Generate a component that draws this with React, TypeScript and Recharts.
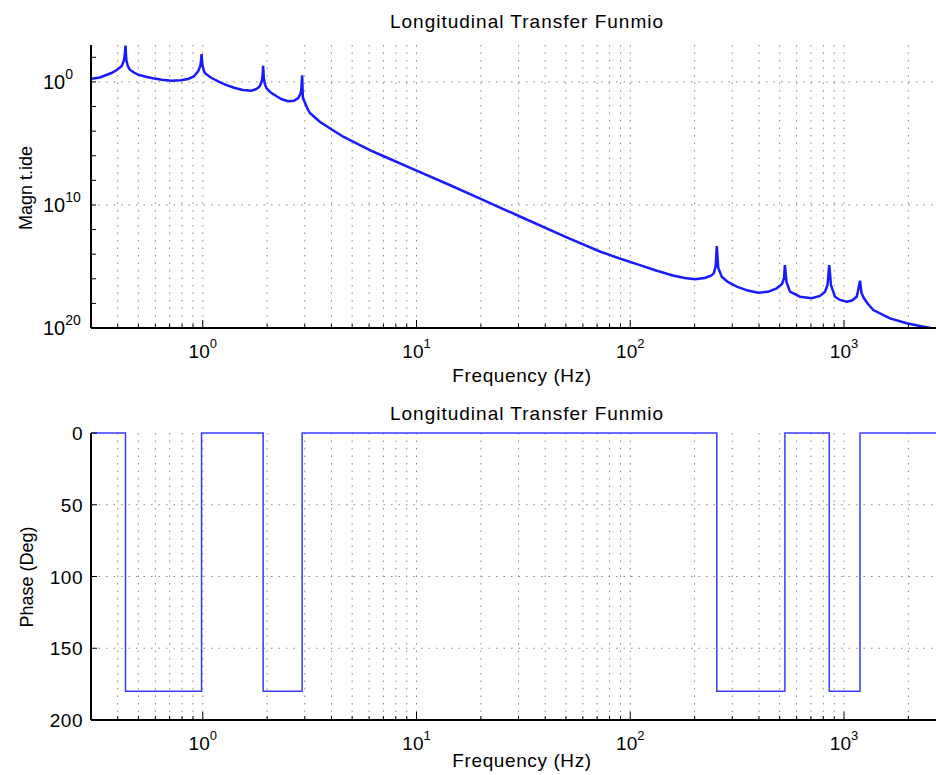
import React from "react";
import { LineChart, Line, XAxis, YAxis, CartesianGrid, ReferenceLine } from "recharts";

const FONT = '"Liberation Sans", Arial, Helvetica, sans-serif';

// magnitude curve (Hz, |H|)
const magFreq = [
  0.302, 0.33, 0.374, 0.396, 0.417, 0.427, 0.431, 0.435, 0.439, 0.446, 0.456, 0.476,
  0.498, 0.536, 0.576, 0.643, 0.714, 0.789, 0.854, 0.908, 0.951, 0.974, 0.98, 0.987,
  0.995, 1.006, 1.022, 1.09, 1.18, 1.282, 1.413, 1.54, 1.691, 1.784, 1.849, 1.89,
  1.906, 1.916, 1.93, 1.951, 1.987, 2.08, 2.214, 2.344, 2.508, 2.668, 2.794, 2.86,
  2.891, 2.917, 2.94, 3.004, 3.07, 3.17, 3.35, 3.53, 3.93, 4.54, 5.24, 6.05,
  6.98, 10, 14.3, 20.2, 30.5, 50.4, 72.1, 87.8, 111, 132, 158, 180,
  201, 223, 240, 246, 251, 254, 258, 268, 286, 315, 355, 397,
  441, 484, 513, 524, 529, 538, 559, 622, 706, 772, 815, 837,
  853, 869, 907, 957, 1029, 1090, 1146, 1160, 1188, 1207, 1240, 1295,
  1371, 1641, 1964, 2267, 2700,
];
const magValue = [
  1.82, 2.28, 5.3, 9.3, 18.6, 50, 128, 910, 60, 19.6, 9.8, 5.8,
  3.9, 2.75, 2.08, 1.49, 1.25, 1.35, 1.73, 2.75, 7.3, 19.6, 41.5, 186,
  28.6, 11.2, 5.3, 2.28, 1.12, 0.58, 0.32, 0.22, 0.193, 0.265, 0.44, 1.19,
  3.65, 20.8, 2.08, 0.68, 0.32, 0.138, 0.068, 0.0386, 0.0265, 0.0297, 0.049, 0.104,
  0.22, 3.44, 0.049, 0.0212, 0.0083, 0.00297, 0.00128, 5.8e-4, 1.7e-4, 3.5e-5, 1.03e-5, 2.9e-6,
  9.5e-7, 6.1e-8, 4.2e-9, 2.8e-10, 1.15e-11, 2.3e-13, 1.65e-14, 4.9e-15, 1.3e-15, 4.7e-16, 1.85e-16, 1.16e-16,
  9.1e-17, 1.16e-16, 1.85e-16, 2.9e-16, 1.1e-15, 4.6e-14, 7.5e-16, 1.48e-16, 5.5e-17, 2.3e-17, 1.1e-17, 7.4e-18,
  8.7e-18, 1.68e-17, 3.8e-17, 1.16e-16, 1.3e-15, 5.5e-17, 8.9e-18, 3.5e-18, 2.6e-18, 4e-18, 8.9e-18, 3.1e-17,
  1.3e-15, 3.1e-17, 3.5e-18, 1.9e-18, 1.37e-18, 1.7e-18, 3.5e-18, 8.4e-18, 7e-17, 7e-18, 2.6e-18, 8.9e-19,
  2.9e-19, 6.1e-20, 2.4e-20, 1.45e-20, 8.3e-21,
];

// phase steps (Hz, deg)
const phaseFreq = [0.3, 0.435, 0.435, 0.987, 0.987, 1.916, 1.916, 2.917, 2.917, 254, 254, 529, 529, 853, 853, 1188, 1188, 3000];
const phaseDeg = [0, 0, 180, 180, 0, 0, 180, 180, 0, 0, 180, 180, 0, 0, 180, 180, 0, 0];

const freqTicks = [
  0.3, 0.4, 0.5, 0.6, 0.7, 0.8, 0.9, 1, 2, 3, 4, 5, 6, 7, 8, 9, 10, 20, 30, 40, 50, 60, 70, 80, 90,
  100, 200, 300, 400, 500, 600, 700, 800, 900, 1000, 2000, 3000,
];
const magTicks = [1e2, 1e0, 1e-2, 1e-4, 1e-6, 1e-8, 1e-10, 1e-12, 1e-14, 1e-16, 1e-18, 1e-20];
const magLabelled = [1e0, 1e-10, 1e-20];
const magLabelText = ["0", "10", "20"];
const magGrid = [1e0, 1e-10];
const phaseTicks = [0, 50, 100, 150, 200];
const phaseGrid = [50, 100, 150];

const magData = magFreq.map((f, i) => ({ f, v: magValue[i] }));
const phaseData = phaseFreq.map((f, i) => ({ f, v: phaseDeg[i] }));

const isDecade = (v: number) => {
  const l = Math.log10(v);
  return Math.abs(l - Math.round(l)) < 1e-6;
};

const XTickBottom = (props: any) => {
  const { x, y, payload } = props;
  const major = isDecade(payload.value);
  return (
    <g>
      <line x1={x} y1={y} x2={x} y2={y - (major ? 8 : 4)} stroke="#000" strokeWidth={1} />
      {major && (
        <text x={x} y={y + 30} textAnchor="middle" fontSize={19} fill="#000" fontFamily={FONT}>
          10
          <tspan dy={-10} fontSize={13}>
            {Math.round(Math.log10(payload.value))}
          </tspan>
        </text>
      )}
    </g>
  );
};

const XTickTop = (props: any) => {
  const { x, y, payload } = props;
  const major = isDecade(payload.value);
  return <line x1={x} y1={y} x2={x} y2={y + (major ? 8 : 4)} stroke="#000" strokeWidth={1} />;
};

const MagTick = (props: any) => {
  const { x, y, payload } = props;
  const idx = magLabelled.indexOf(payload.value);
  return (
    <g>
      <line x1={x} y1={y} x2={x + 5} y2={y} stroke="#000" strokeWidth={1} />
      {idx >= 0 && (
        <text x={x - 48} y={y + 7} fontSize={20} fill="#000" fontFamily={FONT}>
          10
          <tspan dy={-10} fontSize={14}>
            {magLabelText[idx]}
          </tspan>
        </text>
      )}
    </g>
  );
};

const PhaseTick = (props: any) => {
  const { x, y, payload } = props;
  return (
    <g>
      <line x1={x} y1={y} x2={x + 6} y2={y} stroke="#000" strokeWidth={1} />
      <text x={x - 8} y={y + 7} textAnchor="end" fontSize={19} letterSpacing={0.5} fill="#000" fontFamily={FONT}>
        {payload.value}
      </text>
    </g>
  );
};

const gridProps = { stroke: "#8a8a8a", strokeDasharray: "1.5 6" };

const textStyle: React.CSSProperties = {
  position: "absolute",
  fontFamily: FONT,
  fontSize: 19,
  lineHeight: "19px",
  color: "#000",
  whiteSpace: "nowrap",
};
const titleStyle: React.CSSProperties = { ...textStyle, letterSpacing: 1 };
const xLabelStyle: React.CSSProperties = { ...textStyle, letterSpacing: 0.6 };
const yLabelStyle: React.CSSProperties = { ...textStyle, fontSize: 18, lineHeight: "18px" };

export default function App() {
  return (
    <div style={{ position: "absolute", left: 0, top: 0, width: 936, height: 775, overflow: "hidden", background: "#fff" }}>
      <div style={{ ...titleStyle, left: 527, top: 12, transform: "translateX(-50%)" }}>Longitudinal Transfer Funmio</div>
      <div style={{ ...yLabelStyle, left: 26, top: 188, transform: "translate(-50%, -50%) rotate(-90deg)" }}>Magn t.ide</div>
      <div style={{ ...xLabelStyle, left: 522, top: 366, transform: "translateX(-50%)" }}>Frequency (Hz)</div>

      <div style={{ position: "absolute", left: 0, top: 0 }}>
        <LineChart width={960} height={388} data={magData} margin={{ top: 45, right: 14, bottom: 0, left: 0 }}>
          <CartesianGrid horizontal={false} {...gridProps} />
          {magGrid.map((g) => (
            <ReferenceLine key={g} y={g} {...gridProps} />
          ))}
          <XAxis
            dataKey="f"
            type="number"
            scale="log"
            domain={[0.3, 3000]}
            allowDataOverflow
            ticks={freqTicks}
            interval={0}
            height={60}
            tickSize={0}
            tickMargin={0}
            tickLine={false}
            tick={<XTickBottom />}
            axisLine={{ stroke: "#000", strokeWidth: 2 }}
          />
          <XAxis
            xAxisId="top"
            orientation="top"
            dataKey="f"
            type="number"
            scale="log"
            domain={[0.3, 3000]}
            allowDataOverflow
            ticks={freqTicks}
            interval={0}
            height={0}
            tickSize={0}
            tickMargin={0}
            tickLine={false}
            tick={<XTickTop />}
            axisLine={{ stroke: "#000", strokeWidth: 2.5 }}
          />
          <YAxis
            type="number"
            scale="log"
            domain={[1e-20, 1e3]}
            allowDataOverflow
            ticks={magTicks}
            interval={0}
            width={91}
            tickSize={0}
            tickMargin={0}
            tickLine={false}
            tick={<MagTick />}
            axisLine={{ stroke: "#000", strokeWidth: 2 }}
          />
          <Line dataKey="v" type="linear" stroke="#1a1aff" strokeWidth={2.5} dot={false} isAnimationActive={false} />
        </LineChart>
      </div>

      <div style={{ ...titleStyle, left: 527, top: 404, transform: "translateX(-50%)" }}>Longitudinal Transfer Funmio</div>
      <div style={{ ...yLabelStyle, left: 27, top: 577, transform: "translate(-50%, -50%) rotate(-90deg)" }}>Phase (Deg)</div>
      <div style={{ ...xLabelStyle, left: 522, top: 751, transform: "translateX(-50%)" }}>Frequency (Hz)</div>

      <div style={{ position: "absolute", left: 0, top: 390 }}>
        <LineChart width={960} height={385} data={phaseData} margin={{ top: 43, right: 14, bottom: 0, left: 0 }}>
          <CartesianGrid horizontal={false} {...gridProps} />
          {phaseGrid.map((g) => (
            <ReferenceLine key={g} y={g} {...gridProps} />
          ))}
          <XAxis
            dataKey="f"
            type="number"
            scale="log"
            domain={[0.3, 3000]}
            allowDataOverflow
            ticks={freqTicks}
            interval={0}
            height={55}
            tickSize={0}
            tickMargin={0}
            tickLine={false}
            tick={<XTickBottom />}
            axisLine={{ stroke: "#000", strokeWidth: 2 }}
          />
          <XAxis
            xAxisId="top"
            orientation="top"
            dataKey="f"
            type="number"
            scale="log"
            domain={[0.3, 3000]}
            allowDataOverflow
            ticks={freqTicks}
            interval={0}
            height={0}
            tickSize={0}
            tickMargin={0}
            tickLine={false}
            tick={<XTickTop />}
            axisLine={{ stroke: "#000", strokeWidth: 2 }}
          />
          <YAxis
            type="number"
            reversed
            domain={[0, 200]}
            ticks={phaseTicks}
            interval={0}
            width={91}
            tickSize={0}
            tickMargin={0}
            tickLine={false}
            tick={<PhaseTick />}
            axisLine={{ stroke: "#000", strokeWidth: 2 }}
          />
          <Line dataKey="v" type="linear" stroke="#3a3aff" strokeWidth={1.5} dot={false} isAnimationActive={false} />
        </LineChart>
      </div>
    </div>
  );
}
